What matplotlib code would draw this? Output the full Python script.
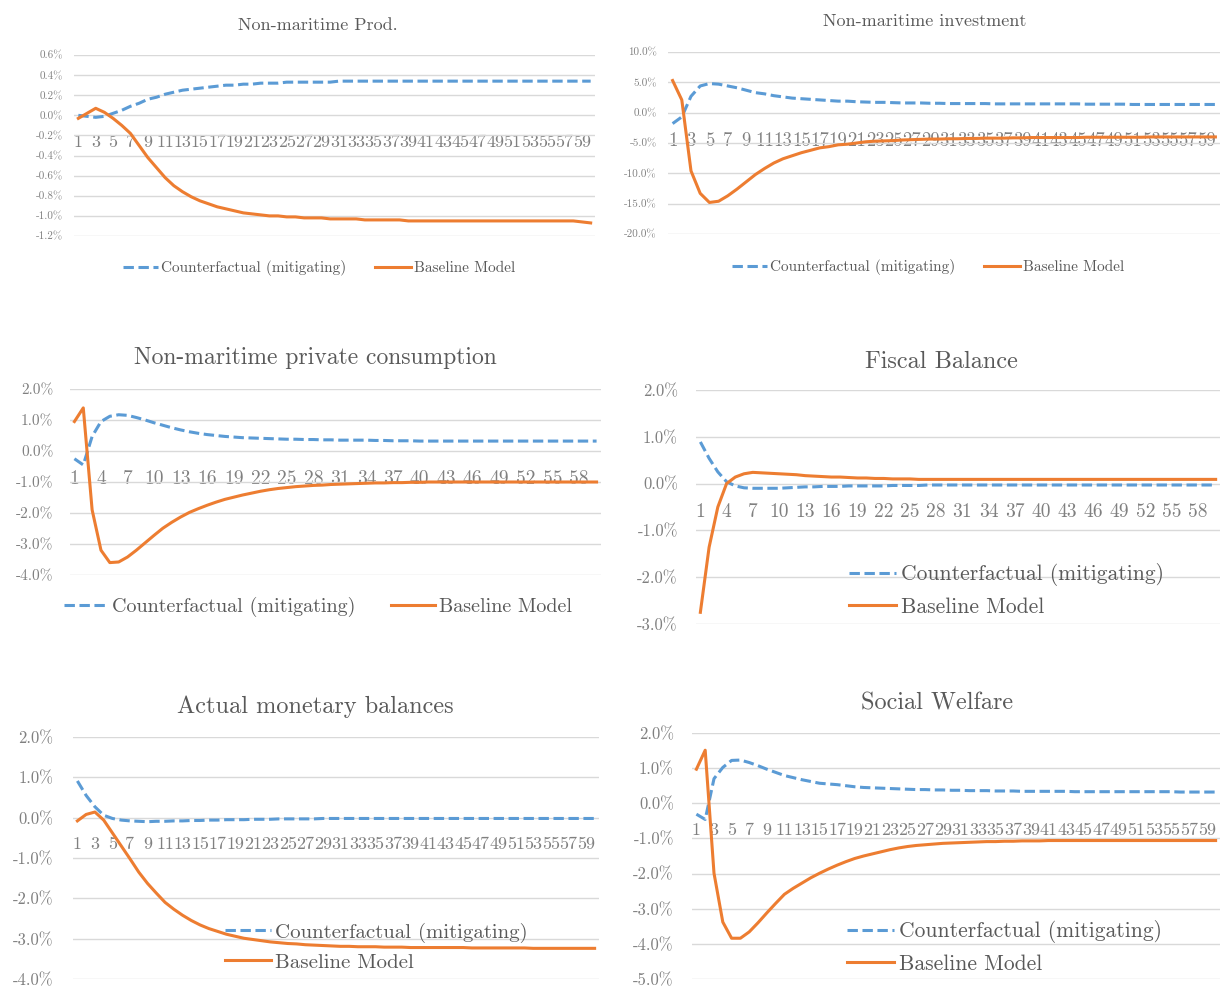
import matplotlib
matplotlib.use("Agg")
import matplotlib.pyplot as plt
from matplotlib.lines import Line2D

plt.rcParams['font.family'] = ['cmr10', 'DejaVu Serif']
plt.rcParams['axes.unicode_minus'] = False

W, H = 1220, 989
periods = list(range(1, 61))

# Non-maritime Prod. (%)
prod_cf = [0.00, -0.01, -0.02, -0.01, 0.02, 0.05, 0.09, 0.12, 0.16, 0.18,
           0.21, 0.23, 0.25, 0.26, 0.27, 0.28, 0.29, 0.30, 0.30, 0.31,
           0.31, 0.32, 0.32, 0.32, 0.33, 0.33, 0.33, 0.33, 0.33, 0.33,
           0.34, 0.34, 0.34, 0.34, 0.34, 0.34, 0.34, 0.34, 0.34, 0.34,
           0.34, 0.34, 0.34, 0.34, 0.34, 0.34, 0.34, 0.34, 0.34, 0.34,
           0.34, 0.34, 0.34, 0.34, 0.34, 0.34, 0.34, 0.34, 0.34, 0.34]
prod_base = [-0.03, 0.02, 0.07, 0.03, -0.03, -0.10, -0.18, -0.30, -0.42, -0.52,
             -0.62, -0.70, -0.76, -0.81, -0.85, -0.88, -0.91, -0.93, -0.95, -0.97,
             -0.98, -0.99, -1.00, -1.00, -1.01, -1.01, -1.02, -1.02, -1.02, -1.03,
             -1.03, -1.03, -1.03, -1.04, -1.04, -1.04, -1.04, -1.04, -1.05, -1.05,
             -1.05, -1.05, -1.05, -1.05, -1.05, -1.05, -1.05, -1.05, -1.05, -1.05,
             -1.05, -1.05, -1.05, -1.05, -1.05, -1.05, -1.05, -1.05, -1.06, -1.07]

# Non-maritime investment (%)
invest_cf = [-1.8, -0.7, 2.7, 4.4, 4.8, 4.7, 4.4, 4.1, 3.7, 3.3,
             3.1, 2.8, 2.6, 2.4, 2.3, 2.2, 2.1, 2.0, 1.9, 1.9,
             1.8, 1.75, 1.7, 1.7, 1.65, 1.6, 1.6, 1.6, 1.55, 1.55,
             1.5, 1.5, 1.5, 1.5, 1.5, 1.45, 1.45, 1.45, 1.45, 1.45,
             1.45, 1.45, 1.45, 1.45, 1.45, 1.4, 1.4, 1.4, 1.4, 1.4,
             1.35, 1.35, 1.35, 1.35, 1.35, 1.35, 1.35, 1.35, 1.35, 1.35]
invest_base = [5.3, 2.1, -9.6, -13.3, -14.8, -14.6, -13.7, -12.6, -11.4, -10.2,
               -9.2, -8.3, -7.6, -7.1, -6.6, -6.2, -5.8, -5.6, -5.3, -5.2,
               -5.0, -4.8, -4.7, -4.65, -4.6, -4.5, -4.45, -4.4, -4.35, -4.35,
               -4.3, -4.3, -4.25, -4.25, -4.2, -4.2, -4.2, -4.15, -4.15, -4.1,
               -4.1, -4.1, -4.1, -4.1, -4.1, -4.05, -4.05, -4.05, -4.05, -4.05,
               -4.05, -4.05, -4.0, -4.0, -4.0, -4.0, -4.0, -4.0, -4.0, -4.0]

# Non-maritime private consumption (%)
cons_cf = [-0.25, -0.45, 0.47, 0.95, 1.12, 1.17, 1.15, 1.08, 1.00, 0.91,
           0.83, 0.75, 0.68, 0.62, 0.57, 0.53, 0.50, 0.47, 0.45, 0.43,
           0.42, 0.41, 0.40, 0.39, 0.38, 0.38, 0.37, 0.37, 0.36, 0.36,
           0.35, 0.35, 0.35, 0.35, 0.34, 0.34, 0.33, 0.33, 0.33, 0.32,
           0.32, 0.32, 0.32, 0.32, 0.32, 0.32, 0.32, 0.32, 0.32, 0.32,
           0.32, 0.32, 0.32, 0.32, 0.32, 0.32, 0.32, 0.32, 0.32, 0.32]
cons_base = [0.95, 1.39, -1.90, -3.20, -3.60, -3.58, -3.42, -3.20, -2.96, -2.72,
             -2.49, -2.30, -2.13, -1.98, -1.86, -1.75, -1.65, -1.56, -1.49, -1.42,
             -1.36, -1.30, -1.25, -1.21, -1.18, -1.15, -1.13, -1.11, -1.10, -1.08,
             -1.07, -1.06, -1.05, -1.04, -1.03, -1.03, -1.02, -1.02, -1.01, -1.01,
             -1.00, -1.00, -1.00, -1.00, -1.00, -1.00, -1.00, -1.00, -1.00, -1.00,
             -1.00, -1.00, -1.00, -1.00, -1.00, -1.00, -1.00, -1.00, -1.00, -1.00]

# Fiscal Balance (%)
fiscal_cf = [0.89, 0.54, 0.25, 0.04, -0.05, -0.09, -0.10, -0.10, -0.10, -0.10,
             -0.09, -0.08, -0.07, -0.07, -0.06, -0.06, -0.06, -0.05, -0.05, -0.05,
             -0.05, -0.05, -0.04, -0.04, -0.04, -0.04, -0.03, -0.03, -0.03, -0.03,
             -0.03, -0.03, -0.03, -0.03, -0.03, -0.03, -0.03, -0.03, -0.03, -0.03,
             -0.03, -0.03, -0.03, -0.03, -0.03, -0.03, -0.03, -0.03, -0.03, -0.03,
             -0.03, -0.03, -0.03, -0.03, -0.03, -0.03, -0.03, -0.03, -0.03, -0.03]
fiscal_base = [-2.75, -1.36, -0.50, 0.00, 0.14, 0.21, 0.24, 0.23, 0.22, 0.21,
               0.20, 0.19, 0.17, 0.16, 0.15, 0.14, 0.14, 0.13, 0.12, 0.12,
               0.11, 0.11, 0.10, 0.10, 0.10, 0.09, 0.09, 0.09, 0.09, 0.09,
               0.09, 0.09, 0.09, 0.09, 0.09, 0.09, 0.09, 0.09, 0.09, 0.09,
               0.09, 0.09, 0.09, 0.09, 0.09, 0.09, 0.09, 0.09, 0.09, 0.09,
               0.09, 0.09, 0.09, 0.09, 0.09, 0.09, 0.09, 0.09, 0.09, 0.09]

# Actual monetary balances (%)
money_cf = [0.91, 0.55, 0.27, 0.06, -0.02, -0.06, -0.08, -0.09, -0.10, -0.09,
            -0.09, -0.08, -0.08, -0.07, -0.07, -0.06, -0.06, -0.05, -0.05, -0.05,
            -0.04, -0.04, -0.04, -0.03, -0.03, -0.03, -0.03, -0.03, -0.02, -0.02,
            -0.02, -0.02, -0.02, -0.02, -0.02, -0.02, -0.02, -0.02, -0.02, -0.02,
            -0.02, -0.02, -0.02, -0.02, -0.02, -0.02, -0.02, -0.02, -0.02, -0.02,
            -0.02, -0.02, -0.02, -0.02, -0.02, -0.02, -0.02, -0.02, -0.02, -0.02]
money_base = [-0.08, 0.08, 0.14, -0.06, -0.38, -0.70, -1.02, -1.35, -1.63, -1.87,
              -2.10, -2.27, -2.42, -2.55, -2.66, -2.75, -2.82, -2.89, -2.94, -2.99,
              -3.02, -3.05, -3.08, -3.10, -3.12, -3.13, -3.15, -3.16, -3.17, -3.18,
              -3.19, -3.19, -3.20, -3.20, -3.20, -3.21, -3.21, -3.21, -3.22, -3.22,
              -3.22, -3.22, -3.22, -3.22, -3.22, -3.23, -3.23, -3.23, -3.23, -3.23,
              -3.23, -3.23, -3.24, -3.24, -3.24, -3.24, -3.24, -3.24, -3.24, -3.24]

# Social Welfare (%)
welfare_cf = [-0.31, -0.46, 0.70, 1.02, 1.22, 1.23, 1.16, 1.07, 0.97, 0.88,
              0.79, 0.73, 0.67, 0.62, 0.57, 0.55, 0.53, 0.50, 0.47, 0.45,
              0.44, 0.43, 0.42, 0.41, 0.40, 0.39, 0.39, 0.38, 0.38, 0.37,
              0.37, 0.36, 0.36, 0.36, 0.35, 0.35, 0.35, 0.34, 0.34, 0.34,
              0.34, 0.34, 0.34, 0.33, 0.33, 0.33, 0.33, 0.33, 0.33, 0.33,
              0.33, 0.33, 0.33, 0.33, 0.33, 0.32, 0.32, 0.32, 0.32, 0.32]
welfare_base = [0.97, 1.51, -1.99, -3.38, -3.84, -3.84, -3.66, -3.40, -3.12, -2.85,
                -2.59, -2.42, -2.27, -2.12, -1.99, -1.87, -1.76, -1.66, -1.57, -1.50,
                -1.44, -1.38, -1.32, -1.27, -1.23, -1.20, -1.18, -1.16, -1.14, -1.13,
                -1.12, -1.11, -1.10, -1.09, -1.09, -1.08, -1.08, -1.07, -1.07, -1.07,
                -1.06, -1.06, -1.06, -1.06, -1.06, -1.06, -1.06, -1.06, -1.06, -1.06,
                -1.06, -1.06, -1.06, -1.06, -1.06, -1.06, -1.06, -1.06, -1.06, -1.06]

BLUE = '#5B9BD5'
ORANGE = '#ED7D31'
TICK_C = '#808080'
TEXT_C = '#595959'

fig = plt.figure(figsize=(W / 100, H / 100), dpi=100)


def draw_panel(box, title, title_xy, title_size, cf, base, ylim, ystep,
               xstep, xsize, ysize, ypad, leg_xy, leg_size, leg_ncol,
               handlelen, colsp):
    l, t, r, b = box
    ax = fig.add_axes([l / W, 1 - b / H, (r - l) / W, (b - t) / H])
    ax.plot(periods, cf, color=BLUE, lw=2.2, dashes=(3.4, 1.5))
    ax.plot(periods, base, color=ORANGE, lw=2.2)
    ax.set_ylim(*ylim)
    ax.set_xlim(0.5, 60.5)
    n = int(round((ylim[1] - ylim[0]) / ystep))
    yt = [ylim[0] + k * ystep for k in range(n + 1)]
    ax.set_yticks(yt, ['{:.1f}%'.format(v + 0.0) for v in yt])
    xt = periods[::xstep]
    ax.set_xticks(xt, [str(v) for v in xt])
    for s in ax.spines.values():
        s.set_visible(False)
    ax.spines['bottom'].set_position(('data', 0))
    ax.grid(axis='y', color='#D9D9D9', lw=1)
    ax.set_axisbelow(True)
    ax.tick_params(axis='x', length=0, pad=14, labelsize=xsize, colors=TICK_C)
    ax.tick_params(axis='y', length=0, pad=ypad, labelsize=ysize, colors=TICK_C)
    fig.text(title_xy[0] / W, 1 - title_xy[1] / H, title, ha='center',
             va='center', fontsize=title_size, color=TEXT_C)
    handles = [Line2D([], [], color=BLUE, lw=2.2, dashes=(3.4, 1.5)),
               Line2D([], [], color=ORANGE, lw=2.2)]
    ax.legend(handles, ['Counterfactual (mitigating)', 'Baseline Model'],
              loc='center left', bbox_to_anchor=(leg_xy[0] / W, 1 - leg_xy[1] / H),
              bbox_transform=fig.transFigure, ncol=leg_ncol, frameon=False,
              fontsize=leg_size, labelcolor=TEXT_C, handlelength=handlelen,
              handletextpad=0.2, columnspacing=colsp, borderpad=0,
              borderaxespad=0, labelspacing=0.5)
    return ax


draw_panel((74, 55, 595, 236), 'Non-maritime Prod.', (318, 25), 13,
           prod_cf, prod_base, (-1.2, 0.6), 0.2, 2, 13, 8, 8,
           (123, 268), 11, 2, 2.3, 1.9)
draw_panel((668, 52, 1220, 234), 'Non-maritime investment', (925, 21), 13,
           invest_cf, invest_base, (-20, 10), 5, 2, 13.5, 8, 8,
           (732, 267), 11, 2, 2.3, 1.9)
draw_panel((70, 389, 601, 575), 'Non-maritime private consumption', (315, 358), 17,
           cons_cf, cons_base, (-4, 2), 1, 3, 14, 11, 12,
           (64, 607), 14.5, 2, 2.2, 1.75)
draw_panel((696, 390, 1220, 624), 'Fiscal Balance', (941, 362), 17.5,
           fiscal_cf, fiscal_base, (-3, 2), 1, 3, 14, 12, 13,
           (849, 590), 15.5, 1, 2.2, 1.0)
draw_panel((73, 737, 599, 979), 'Actual monetary balances', (315, 707), 17.5,
           money_cf, money_base, (-4, 2), 1, 2, 13, 12, 14,
           (225, 947), 15, 1, 2.2, 1.0)
draw_panel((692, 733, 1220, 979), 'Social Welfare', (937, 703), 17.5,
           welfare_cf, welfare_base, (-5, 2), 1, 2, 13, 12, 13,
           (847, 947), 15.5, 1, 2.2, 1.0)

fig.savefig('out.png', dpi=100, facecolor='white')
